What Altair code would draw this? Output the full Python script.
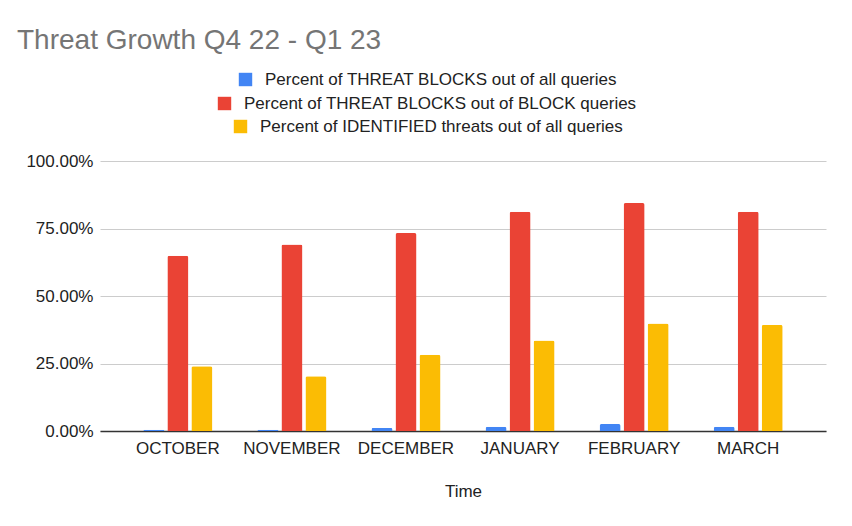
import altair as alt
import pandas as pd

months = ["OCTOBER", "NOVEMBER", "DECEMBER", "JANUARY", "FEBRUARY", "MARCH"]
series_names = [
    "Percent of THREAT BLOCKS out of all queries",
    "Percent of THREAT BLOCKS out of BLOCK queries",
    "Percent of IDENTIFIED threats out of all queries",
]
threat_all = [0.005, 0.005, 0.011, 0.016, 0.026, 0.016]
threat_block = [0.649, 0.691, 0.733, 0.812, 0.844, 0.812]
identified_all = [0.240, 0.203, 0.282, 0.335, 0.398, 0.393]
colors = ["#4285F4", "#EA4335", "#FBBC04"]
y_ticks = [0, 0.25, 0.5, 0.75, 1.0]

# legend placement (layout only): each line centred like the reference
legend_x = [137, 116, 132]
legend_y = [-90, -66, -43]

rows = []
for name, vals in zip(series_names, [threat_all, threat_block, identified_all]):
    for m, v in zip(months, vals):
        rows.append({"Month": m, "Series": name, "Value": v})
df = pd.DataFrame(rows)

FONT = "Liberation Sans"

x_enc = alt.X(
    "Month:N",
    sort=months,
    scale=alt.Scale(paddingInner=0.395, paddingOuter=0.38),
    axis=alt.Axis(
        title="Time",
        labelAngle=0,
        labelFontSize=17,
        labelColor="#222222",
        labelPadding=9,
        ticks=False,
        domainColor="#333333",
        domainWidth=1.5,
        titleFontSize=17,
        titleFontWeight="normal",
        titleColor="#222222",
        titlePadding=27,
    ),
)
xoff_enc = alt.XOffset(
    "Series:N",
    sort=series_names,
    scale=alt.Scale(domain=series_names, paddingInner=0.125),
)
y_enc = alt.Y(
    "Value:Q",
    scale=alt.Scale(domain=[0, 1]),
    axis=alt.Axis(
        title=None,
        format=".2%",
        values=y_ticks,
        labelFontSize=17,
        labelColor="#222222",
        labelPadding=7,
        ticks=False,
        domain=False,
        gridColor="#cccccc",
        gridWidth=1,
    ),
)

layers = []
for i, name in enumerate(series_names):
    layers.append(
        alt.Chart(df)
        .transform_filter(alt.datum.Series == name)
        .mark_bar(cornerRadiusTopLeft=2, cornerRadiusTopRight=2)
        .encode(
            x=x_enc,
            xOffset=xoff_enc,
            y=y_enc,
            color=alt.Color(
                "Series:N",
                scale=alt.Scale(domain=[name], range=[colors[i]]),
                legend=alt.Legend(
                    title=None,
                    orient="none",
                    legendX=legend_x[i],
                    legendY=legend_y[i],
                    direction="vertical",
                    symbolType="square",
                    symbolSize=180,
                    symbolStrokeWidth=0,
                    symbolOpacity=1,
                    labelFontSize=17,
                    labelColor="#222222",
                    labelOffset=11,
                    labelLimit=600,
                ),
            ),
        )
    )

chart = (
    alt.layer(*layers)
    .resolve_scale(color="independent")
    .properties(
        width=726,
        height=270,
        padding={"left": 92, "top": 153, "right": 10, "bottom": 70},
        autosize=alt.AutoSizeParams(type="none"),
        title=alt.TitleParams(
            text="Threat Growth Q4 22 - Q1 23",
            anchor="start",
            frame="group",
            dx=-83,
            offset=16,
            fontSize=28,
            fontWeight="normal",
            color="#757575",
            font=FONT,
        ),
    )
    .configure(font=FONT)
    .configure_view(stroke=None)
)

chart.save("out.html", embed_options={"renderer": "svg", "actions": False})
